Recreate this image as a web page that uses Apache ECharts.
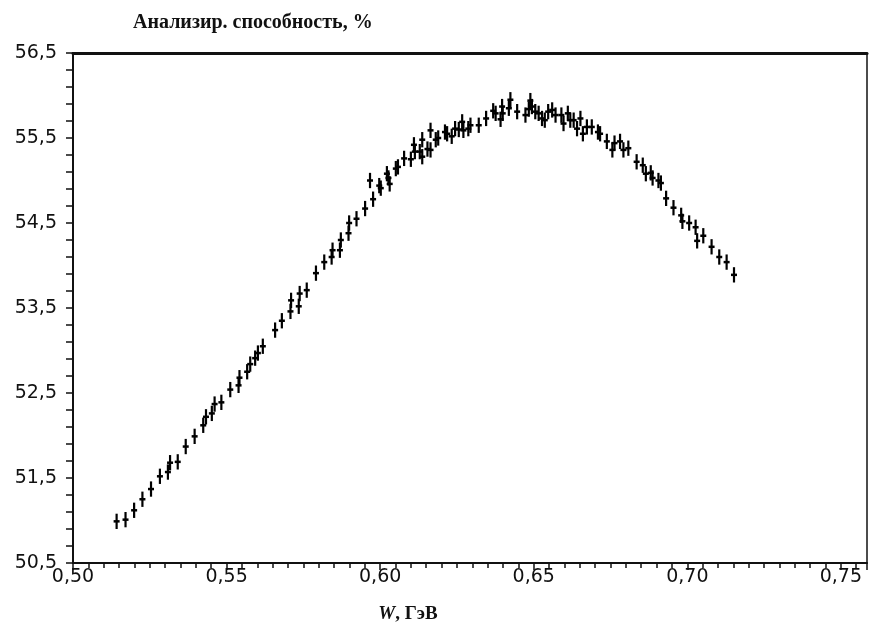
<!DOCTYPE html>
<html>
<head>
<meta charset="utf-8">
<script src="https://cdn.jsdelivr.net/npm/echarts@6/dist/echarts.min.js"></script>
<style>
  html, body { margin: 0; padding: 0; background: #fff; }
  #main { width: 874px; height: 634px; }
</style>
</head>
<body>
<div id="main"></div>
<script>
// energy W, GeV
var wValues = [
  0.5142, 0.5171, 0.5199, 0.5226, 0.5254, 0.5283, 0.5309, 0.5316, 0.5341, 0.5367,
  0.5396, 0.5424, 0.5433, 0.5452, 0.5461, 0.5483, 0.5512, 0.5539, 0.5542, 0.5567,
  0.5577, 0.5593, 0.5602, 0.5618, 0.5658, 0.5680, 0.5708, 0.5710, 0.5735, 0.5738,
  0.5761, 0.5791, 0.5818, 0.5842, 0.5845, 0.5869, 0.5872, 0.5897, 0.5899, 0.5923,
  0.5951, 0.5967, 0.5977, 0.5997, 0.6002, 0.6022, 0.6027, 0.6031, 0.6051, 0.6058,
  0.6078, 0.6100, 0.6110, 0.6113, 0.6129, 0.6137, 0.6137, 0.6154, 0.6164, 0.6164,
  0.6181, 0.6189, 0.6211, 0.6218, 0.6233, 0.6244, 0.6256, 0.6267, 0.6271, 0.6287,
  0.6294, 0.6321, 0.6345, 0.6368, 0.6376, 0.6392, 0.6397, 0.6399, 0.6419, 0.6424,
  0.6446, 0.6473, 0.6484, 0.6489, 0.6494, 0.6505, 0.6516, 0.6527, 0.6536, 0.6547,
  0.6560, 0.6571, 0.6590, 0.6597, 0.6611, 0.6619, 0.6630, 0.6641, 0.6652, 0.6660,
  0.6673, 0.6689, 0.6709, 0.6716, 0.6738, 0.6756, 0.6763, 0.6781, 0.6792, 0.6808,
  0.6835, 0.6855, 0.6865, 0.6881, 0.6887, 0.6906, 0.6914, 0.6931, 0.6955, 0.6980,
  0.6984, 0.7006, 0.7027, 0.7032, 0.7052, 0.7079, 0.7104, 0.7128, 0.7152
];
// analysing power, %
var powerValues = [
  50.99, 51.01, 51.12, 51.25, 51.37, 51.52, 51.57, 51.68, 51.69, 51.87,
  51.99, 52.12, 52.22, 52.26, 52.37, 52.39, 52.54, 52.59, 52.68, 52.75,
  52.84, 52.91, 52.97, 53.05, 53.24, 53.35, 53.46, 53.59, 53.52, 53.67,
  53.71, 53.91, 54.04, 54.10, 54.18, 54.18, 54.30, 54.38, 54.50, 54.55,
  54.67, 55.00, 54.78, 54.94, 54.91, 55.08, 55.03, 54.96, 55.14, 55.16,
  55.26, 55.25, 55.42, 55.34, 55.34, 55.48, 55.28, 55.37, 55.59, 55.36,
  55.48, 55.50, 55.57, 55.55, 55.52, 55.61, 55.60, 55.69, 55.59, 55.61,
  55.65, 55.65, 55.73, 55.82, 55.79, 55.72, 55.87, 55.79, 55.85, 55.95,
  55.81, 55.77, 55.84, 55.94, 55.87, 55.81, 55.79, 55.73, 55.71, 55.81,
  55.83, 55.77, 55.77, 55.67, 55.79, 55.71, 55.71, 55.61, 55.73, 55.55,
  55.63, 55.63, 55.57, 55.55, 55.46, 55.36, 55.44, 55.46, 55.36, 55.38,
  55.22, 55.18, 55.08, 55.09, 55.03, 55.00, 54.97, 54.79, 54.68, 54.59,
  54.52, 54.50, 54.45, 54.29, 54.35, 54.22, 54.10, 54.04, 53.89
];
var errHalf = 0.09;

var xMin = 0.5, xMax = 0.7585;
var yMin = 50.5, yMax = 56.5;

var points = wValues.map(function (w, i) { return [w, powerValues[i], errHalf]; });

function comma(v, digits) {
  return v.toFixed(digits).replace('.', ',');
}

var chart = echarts.init(document.getElementById('main'));
var labelFont = { color: '#111', fontSize: 19, fontFamily: 'DejaVu Sans, sans-serif' };

chart.setOption({
  backgroundColor: '#fff',
  animation: false,
  title: {
    text: 'Анализир. способность, %',
    left: 128, top: 8,
    textStyle: { fontFamily: 'Liberation Serif, serif', fontSize: 20, fontWeight: 'bold', color: '#111' }
  },
  grid: { left: 73, right: 7, top: 53, bottom: 71 },
  xAxis: [{
    type: 'value', min: xMin, max: xMax, interval: 0.05,
    name: '{w|W}{t|, ГэВ}', nameLocation: 'middle', nameGap: 42,
    nameTextStyle: {
      padding: [0, 124, 0, 0],
      rich: {
        w: { fontFamily: 'Liberation Serif, serif', fontSize: 19, fontWeight: 'bold', fontStyle: 'italic', color: '#111' },
        t: { fontFamily: 'Liberation Serif, serif', fontSize: 19, fontWeight: 'bold', color: '#111' }
      }
    },
    axisLine: { lineStyle: { color: '#111', width: 2 } },
    axisTick: { show: true, length: 7, inside: false, lineStyle: { color: '#111', width: 1.5 } },
    minorTick: { show: true, splitNumber: 10, length: 5, lineStyle: { color: '#111', width: 1.5 } },
    splitLine: { show: false },
    axisLabel: Object.assign({ margin: 5, formatter: function (v) { return comma(v, 2); } }, labelFont)
  }, {
    type: 'value', position: 'top', min: xMin, max: xMax,
    axisLine: { onZero: false, lineStyle: { color: '#111', width: 3 } },
    axisTick: { show: false }, axisLabel: { show: false }, splitLine: { show: false }
  }],
  yAxis: [{
    type: 'value', min: yMin, max: yMax, interval: 1,
    axisLine: { lineStyle: { color: '#111', width: 2 } },
    axisTick: { show: true, length: 7, lineStyle: { color: '#111', width: 1.5 } },
    minorTick: { show: true, splitNumber: 5, length: 7, lineStyle: { color: '#111', width: 1.5 } },
    splitLine: { show: false },
    axisLabel: Object.assign({ margin: 16, formatter: function (v) { return comma(v, 1); } }, labelFont)
  }, {
    type: 'value', position: 'right', min: yMin, max: yMax,
    axisLine: { show: true, onZero: false, lineStyle: { color: '#111', width: 1.5 } },
    axisTick: { show: false }, axisLabel: { show: false }, splitLine: { show: false }
  }],
  series: [{
    type: 'custom',
    data: points,
    renderItem: function (params, api) {
      var x = api.value(0), y = api.value(1), e = api.value(2);
      var top = api.coord([x, y + e]);
      var bot = api.coord([x, y - e]);
      var c = api.coord([x, y]);
      return {
        type: 'group',
        children: [
          { type: 'line', shape: { x1: top[0], y1: top[1], x2: bot[0], y2: bot[1] }, style: { stroke: '#000', lineWidth: 2.2 } },
          { type: 'line', shape: { x1: c[0] - 3, y1: c[1], x2: c[0] + 3, y2: c[1] }, style: { stroke: '#000', lineWidth: 2.5 } }
        ]
      };
    }
  }]
});
</script>
</body>
</html>
